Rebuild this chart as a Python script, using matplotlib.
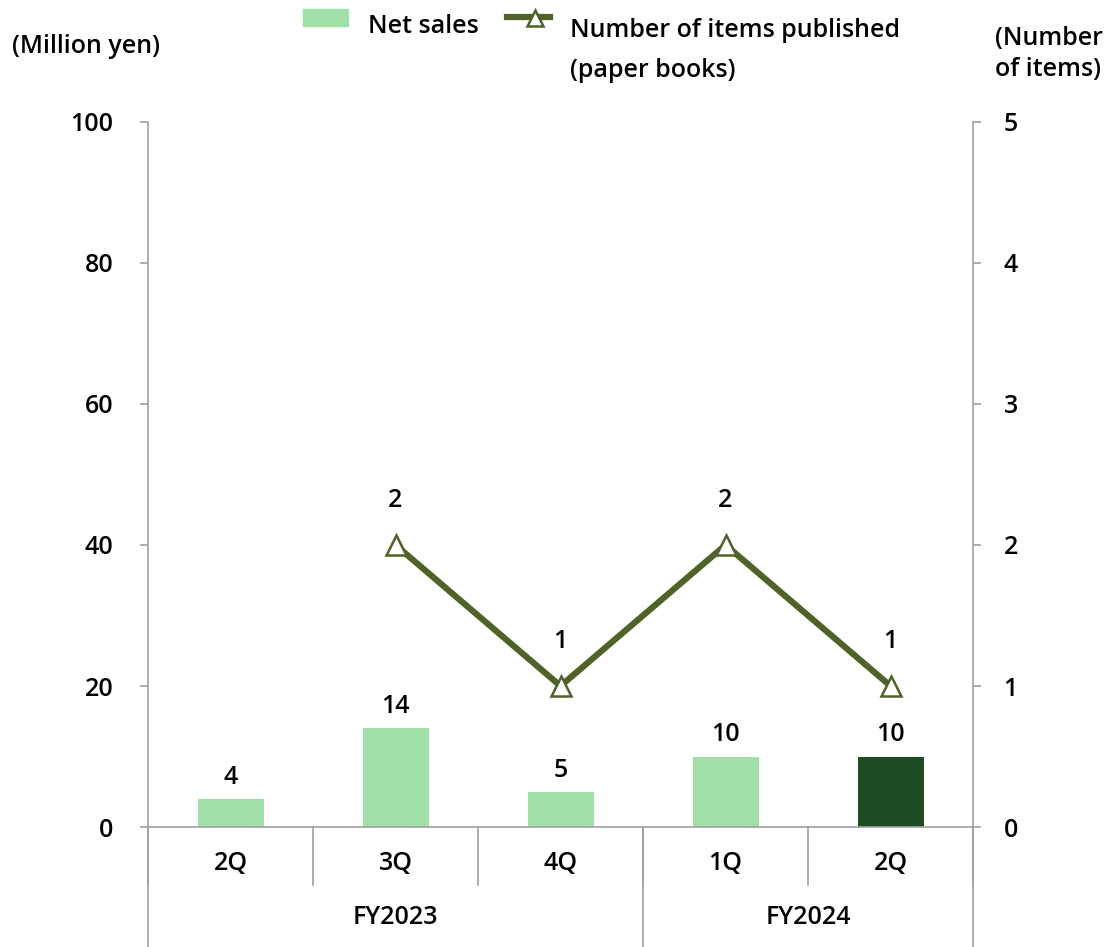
import numpy as np
import matplotlib.pyplot as plt
from matplotlib.lines import Line2D
from matplotlib.patches import Rectangle

plt.rcParams['font.family'] = ['Open Sans', 'DejaVu Sans']
plt.rcParams['font.weight'] = 'semibold'
FS = 18

quarters = ['2Q', '3Q', '4Q', '1Q', '2Q']
years = ['FY2023', 'FY2024']
year_spans = [(0, 2), (3, 4)]
net_sales = [4, 14, 5, 10, 10]
items_published = [np.nan, 2, 1, 2, 1]

light_green = '#A1DFA9'
dark_green = '#1C4D24'
olive = '#4F6228'
grey = '#A0A0A0'

fig = plt.figure(figsize=(11.07, 9.47), dpi=100)
ax = fig.add_axes([0.1337, 0.1267, 0.7453, 0.7445])
ax2 = ax.twinx()

x = np.arange(len(quarters))
colors = [light_green] * (len(quarters) - 1) + [dark_green]
ax.bar(x, net_sales, width=0.4, color=colors, zorder=2)
for xi, v in zip(x, net_sales):
    ax.text(xi, v + 1.3, str(v), ha='center', va='bottom', fontsize=FS)

ax2.plot(x, items_published, color=olive, lw=4.5, marker='^', ms=14,
         mfc='white', mec=olive, mew=1.8, zorder=3)
for xi, v in zip(x, items_published):
    if not np.isnan(v):
        ax2.text(xi, v + 0.23, str(int(v)), ha='center', va='bottom',
                 fontsize=FS)

ax.set_xlim(-0.5, len(quarters) - 0.5)
ax.set_ylim(0, 100)
ax2.set_ylim(0, 5)
ax.set_yticks(np.arange(0, 101, 20))
ax2.set_yticks(np.arange(0, 6, 1))

for a in (ax, ax2):
    a.spines['top'].set_visible(False)
    for s in a.spines.values():
        s.set_color(grey)
        s.set_linewidth(1.2)
    a.tick_params(axis='y', colors=grey, labelcolor='black', length=6,
                  width=1.2, labelsize=FS)
ax.tick_params(axis='y', pad=19)
ax2.tick_params(axis='y', pad=16)
ax.spines['right'].set_visible(False)
ax2.spines['left'].set_visible(False)
ax2.spines['bottom'].set_visible(False)

ax.set_xticks(x)
ax.set_xticklabels(quarters, fontsize=FS)
ax.tick_params(axis='x', length=0, pad=17)

# category separators under the plot
trans = ax.get_xaxis_transform()
for b in np.arange(-0.5, len(quarters), 1.0):
    ax.plot([b, b], [0, -0.082], transform=trans, color=grey, lw=1.2,
            clip_on=False)
group_edges = [-0.5, 2.5, 4.5]
for b in group_edges:
    ax.plot([b, b], [0, -0.175], transform=trans, color=grey, lw=1.2,
            clip_on=False)
for name, (s, e) in zip(years, year_spans):
    ax.text((s + e) / 2, -0.129, name, transform=trans, ha='center',
            va='center', fontsize=FS)

fig.text(0.011, 0.9514, '(Million yen)', fontsize=FS, va='center')
fig.text(0.899, 0.943, '(Number\nof items)', fontsize=FS, va='center',
         linespacing=1.3)

# legend
fig.add_artist(Rectangle((0.2737, 0.9725), 0.0407, 0.018,
                         transform=fig.transFigure, color=light_green))
fig.text(0.3324, 0.9715, 'Net sales', fontsize=FS, va='center')
fig.add_artist(Line2D([0.458, 0.4968], [0.982, 0.982],
                      transform=fig.transFigure, color=olive, lw=4.5))
fig.add_artist(Line2D([0.4833], [0.981], transform=fig.transFigure,
                      marker='^', ms=11, mfc='white', mec=olive, mew=1.8))
fig.text(0.515, 0.968, 'Number of items published', fontsize=FS,
         va='center')
fig.text(0.515, 0.926, '(paper books)', fontsize=FS, va='center')

fig.savefig('out.png', dpi=100)
